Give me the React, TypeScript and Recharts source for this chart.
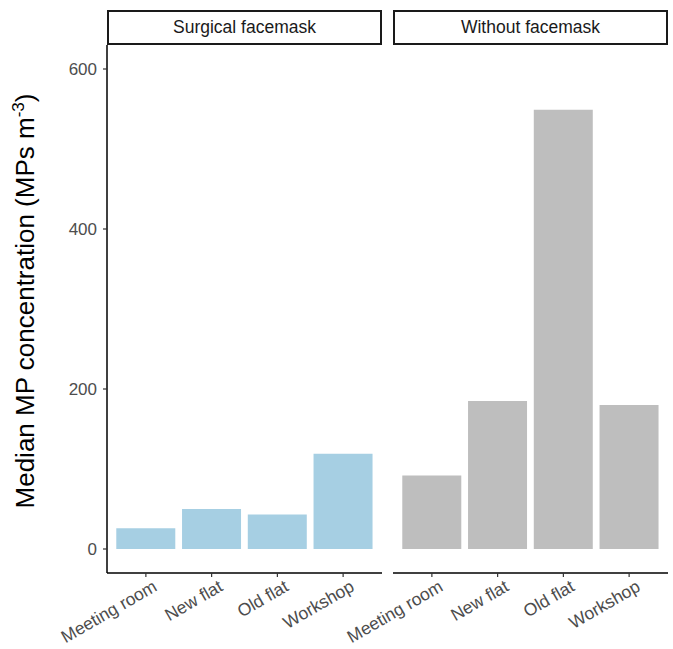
import { BarChart, Bar, XAxis, YAxis } from 'recharts';

const locations = ['Meeting room', 'New flat', 'Old flat', 'Workshop'];
const surgicalValues = [26, 50, 43, 119];
const withoutValues = [92, 185, 549, 180];
const yTicks = [0, 200, 400, 600];
const panelTitles = ['Surgical facemask', 'Without facemask'];

const surgicalData = locations.map((loc, i) => ({ loc, value: surgicalValues[i] }));
const withoutData = locations.map((loc, i) => ({ loc, value: withoutValues[i] }));

const FONT = '"Liberation Sans", Arial, sans-serif';
const TEXT = '#4d4d4d';

const XTick = (props: any) => {
  const { x, y, payload } = props;
  const ax = x + 6;
  const ay = y;
  return (
    <text
      x={ax}
      y={ay}
      dy="0.72em"
      textAnchor="end"
      transform={`rotate(-30 ${ax} ${ay})`}
      fontSize={17.5}
      fontFamily={FONT}
      fill={TEXT}
    >
      {payload.value}
    </text>
  );
};

const YLabel = (props: any) => {
  const { viewBox } = props;
  const cx = 34;
  const cy = viewBox.y + viewBox.height / 2 - 8;
  return (
    <text
      x={cx}
      y={cy}
      textAnchor="middle"
      transform={`rotate(-90 ${cx} ${cy})`}
      fontSize={26}
      fontFamily={FONT}
      fill="#000"
    >
      Median MP concentration (MPs m
      <tspan dy={-10} fontSize={17}>-3</tspan>
      <tspan dy={10}>)</tspan>
    </text>
  );
};

const Strip = ({ left, title }: { left: number; title: string }) => (
  <div
    style={{
      position: 'absolute',
      left,
      top: 10,
      width: 275,
      height: 35,
      boxSizing: 'border-box',
      border: '2px solid #1a1a1a',
      background: '#fff',
      fontFamily: FONT,
      fontSize: 17.5,
      color: '#1a1a1a',
      display: 'flex',
      alignItems: 'center',
      justifyContent: 'center',
    }}
  >
    {title}
  </div>
);

const axisLine = { stroke: '#000', strokeWidth: 1.5 };
const tickLine = { stroke: '#333', strokeWidth: 1.2 };

export default function App() {
  return (
    <div style={{ position: 'absolute', left: 0, top: 0, width: 673, height: 649, background: '#fff' }}>
      <Strip left={107} title={panelTitles[0]} />
      <Strip left={393} title={panelTitles[1]} />

      <div style={{ position: 'absolute', left: 0, top: 0 }}>
        <BarChart
          width={390}
          height={649}
          data={surgicalData}
          margin={{ top: 45, right: 8, bottom: 0, left: 47 }}
          barCategoryGap="5%"
        >
          <XAxis
            dataKey="loc"
            height={76}
            padding={{ left: 6, right: 6 }}
            axisLine={axisLine}
            tickLine={tickLine}
            tickSize={4}
            tick={<XTick />}
            interval={0}
          />
          <YAxis
            width={60}
            domain={[-30, 630]}
            ticks={yTicks}
            allowDataOverflow
            axisLine={axisLine}
            tickLine={tickLine}
            tickSize={4}
            tickMargin={6}
            tick={{ fontSize: 17, fontFamily: FONT, fill: TEXT }}
            label={<YLabel />}
          />
          <Bar dataKey="value" fill="#a6cfe3" isAnimationActive={false} />
        </BarChart>
      </div>

      <div style={{ position: 'absolute', left: 0, top: 0 }}>
        <BarChart
          width={673}
          height={649}
          data={withoutData}
          margin={{ top: 45, right: 5, bottom: 0, left: 393 }}
          barCategoryGap="5%"
        >
          <XAxis
            dataKey="loc"
            height={76}
            padding={{ left: 6, right: 6 }}
            axisLine={axisLine}
            tickLine={tickLine}
            tickSize={4}
            tick={<XTick />}
            interval={0}
          />
          <YAxis hide domain={[-30, 630]} ticks={yTicks} allowDataOverflow />
          <Bar dataKey="value" fill="#bebebe" isAnimationActive={false} />
        </BarChart>
      </div>
    </div>
  );
}
